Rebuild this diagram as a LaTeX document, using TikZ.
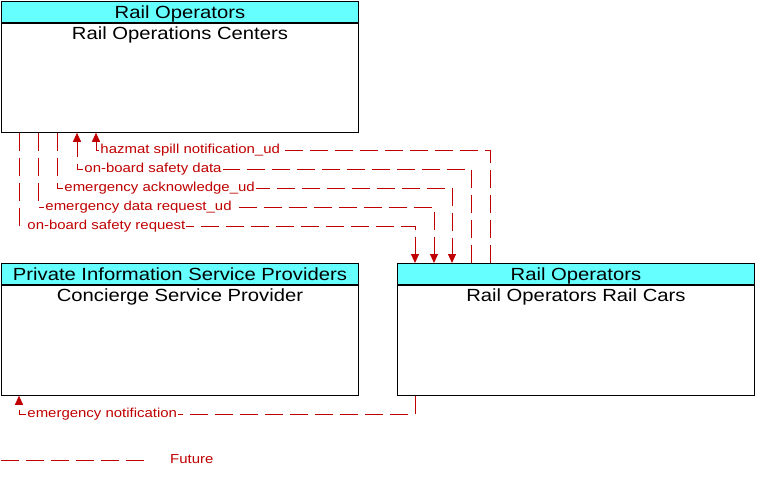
\documentclass[tikz,border=0pt]{standalone}
\usepackage{fontspec}
\setmainfont{Liberation Sans}[FakeStretch=1.15]
\usepackage{tikz}
\usetikzlibrary{arrows.meta}
\usetikzlibrary{positioning}

\definecolor{flowred}{RGB}{192,0,0}
\definecolor{headcyan}{RGB}{102,255,255}

\begin{document}
\begin{tikzpicture}[x=1pt, y=-1pt, >={Triangle[width=8pt,length=9pt]},
  head/.style={draw, line width=0.9pt, fill=headcyan, minimum width=357pt, minimum height=21pt,
    inner sep=0pt, text height=13pt, text depth=0pt, font=\fontsize{17.6}{18}\selectfont},
  body/.style={draw, line width=0.9pt, minimum width=357pt, inner sep=0pt},
  title/.style={anchor=north, inner xsep=2pt, inner ysep=3.5pt, text height=13pt, font=\fontsize{17.6}{18}\selectfont},
  future/.style={flowred, line width=0.9pt, dash pattern=on 18pt off 7pt},
  lbl/.style={flowred, fill=white, inner xsep=1pt, inner ysep=0pt, text height=9pt, text depth=2pt,
    font=\fontsize{13}{14}\selectfont}]
  \path[use as bounding box] (0, 0) rectangle (764, 479);

%%%%%%%%%%%% Boxes
  \node[head, anchor=north west] (roc_head) at (1, 1) {Rail Operators};
  \node[body, minimum height=109pt, below=0pt of roc_head] (roc) {};
  \node[title] at (roc_head.south) {Rail Operations Centers};

  \node[head, anchor=north west] (csp_head) at (1, 263) {Private Information Service Providers};
  \node[body, minimum height=110pt, below=0pt of csp_head] (csp) {};
  \node[title] at (csp_head.south) {Concierge Service Provider};

  \node[head, anchor=north west] (cars_head) at (397, 263) {Rail Operators};
  \node[body, minimum height=110pt, below=0pt of cars_head] (cars) {};
  \node[title] at (cars_head.south) {Rail Operators Rail Cars};

%%%%%%%%%%%% Flows up to the centers
  \coordinate (hz1) at (490, 150);
  \coordinate (hz2) at (96, 150);
  \draw[future, ->] (hz1 |- cars_head.north) -- (hz1)
    -- node[lbl, pos=1, anchor=west, xshift=3pt] {hazmat spill notification\_ud} (hz2)
    -- (hz2 |- roc.south);

  \coordinate (sd1) at (471, 169);
  \coordinate (sd2) at (77, 169);
  \draw[future, ->] (sd1 |- cars_head.north) -- (sd1)
    -- node[lbl, pos=1, anchor=west, xshift=6pt] {on-board safety data} (sd2)
    -- (sd2 |- roc.south);

%%%%%%%%%%%% Flows down to the rail cars
  \coordinate (ea1) at (57, 188);
  \coordinate (ea2) at (452, 188);
  \draw[future, ->] (ea1 |- roc.south) -- (ea1)
    -- node[lbl, pos=0, anchor=west, xshift=6pt] {emergency acknowledge\_ud} (ea2)
    -- (ea2 |- cars_head.north);

  \coordinate (dr1) at (38, 207);
  \coordinate (dr2) at (434, 207);
  \draw[future, ->] (dr1 |- roc.south) -- (dr1)
    -- node[lbl, pos=0, anchor=west, xshift=6pt] {emergency data request\_ud} (dr2)
    -- (dr2 |- cars_head.north);

  \coordinate (sr1) at (19, 226);
  \coordinate (sr2) at (415, 226);
  \draw[future, ->] (sr1 |- roc.south) -- (sr1)
    -- node[lbl, pos=0, anchor=west, xshift=7pt] {on-board safety request} (sr2)
    -- (sr2 |- cars_head.north);

%%%%%%%%%%%% Flow to the concierge
  \coordinate (en1) at (415, 414);
  \coordinate (en2) at (19, 414);
  \draw[future, ->] (en1 |- cars.south) -- (en1)
    -- node[lbl, pos=1, anchor=west, xshift=7pt] {emergency notification} (en2)
    -- (en2 |- csp.south);

%%%%%%%%%%%% Legend
  \coordinate (leg1) at (1, 460);
  \coordinate (leg2) at (150, 460);
  \draw[future] (leg1) -- (leg2);
  \node[lbl, anchor=west] (legend) at (169, 460) {Future};
\end{tikzpicture}
\end{document}
